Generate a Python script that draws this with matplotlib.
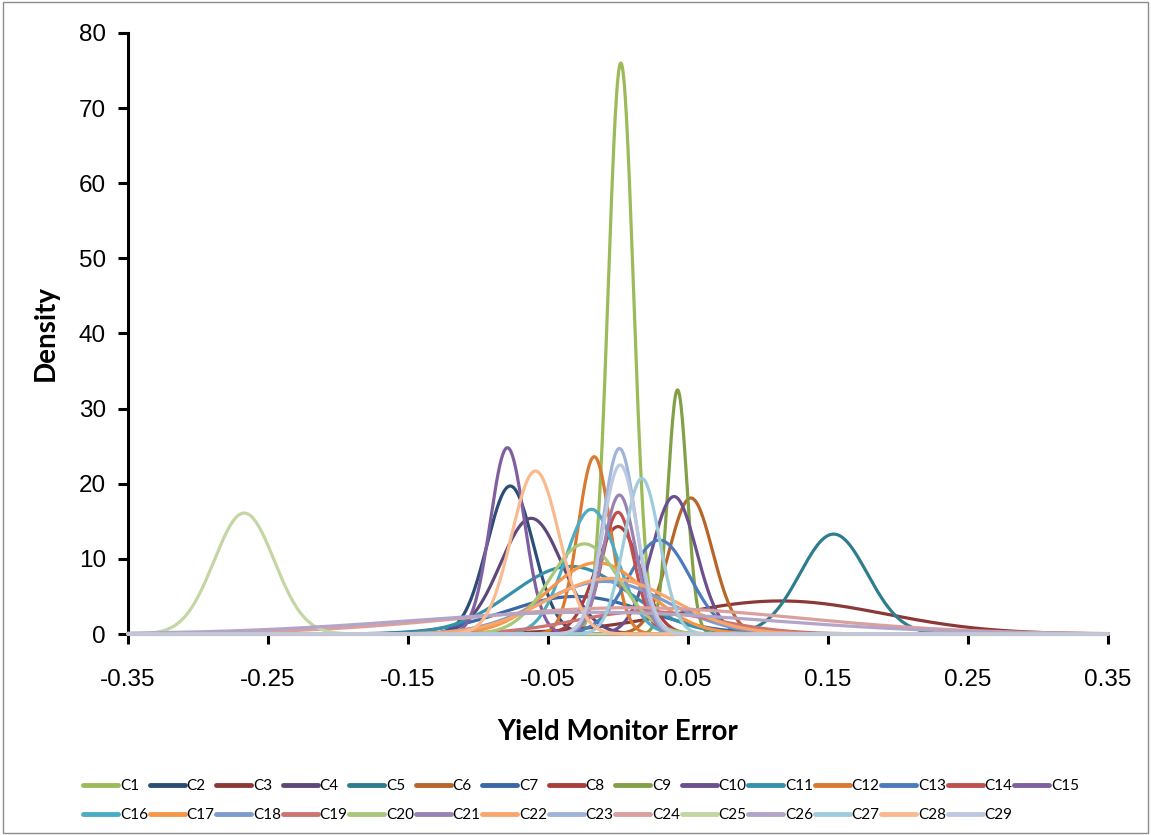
import numpy as np
import matplotlib.pyplot as plt
from matplotlib.patches import Rectangle

# Fitted normal-curve parameters for each calibration
names = ["C%d" % i for i in range(1, 30)]
means = [0.002, -0.077, 0.116, -0.062, 0.154, 0.052, -0.030, 0.000, 0.0425, 0.040,
         -0.034, -0.017, 0.0295, 0.000, -0.079, -0.019, -0.015, -0.010, 0.020, -0.024,
         0.001, -0.006, 0.001, 0.010, -0.267, -0.020, 0.017, -0.059, 0.0015]
sds = [0.009, 0.0165, 0.075, 0.022, 0.024, 0.0156, 0.050, 0.016, 0.0068, 0.016,
       0.042, 0.0115, 0.022, 0.0115, 0.0122, 0.0185, 0.035, 0.045, 0.050, 0.025,
       0.0116, 0.045, 0.0118, 0.120, 0.0215, 0.130, 0.0127, 0.017, 0.0125]
peaks = [76.0, 19.7, 4.4, 15.4, 13.3, 18.1, 5.0, 14.3, 32.5, 18.3,
         9.0, 23.6, 12.5, 16.2, 24.8, 16.6, 9.5, 7.0, 3.0, 12.0,
         18.5, 7.4, 24.7, 3.5, 16.1, 2.9, 20.7, 21.7, 22.5]
colors = ["#9BBB59", "#2C4D75", "#8C3836", "#5F4879", "#2E7D8F", "#B8652A", "#3A67A5",
          "#A93E3B", "#82A046", "#6B4F8E", "#3591A9", "#D97A30", "#4A7BBE", "#C0504D",
          "#7F5FA0", "#4BACC6", "#F79646", "#7D9BCE", "#CD7371", "#A9C77A", "#9983B5",
          "#F9A66B", "#A0B4DA", "#D9A09E", "#C3D6A4", "#B3A5C8", "#9FCCDB", "#FABA8F",
          "#BDC9E1"]

x_ticks = [-0.35, -0.25, -0.15, -0.05, 0.05, 0.15, 0.25, 0.35]
y_ticks = [0, 10, 20, 30, 40, 50, 60, 70, 80]

fig = plt.figure(figsize=(11.51, 8.35), dpi=100)
ax = fig.add_axes([0.1112, 0.2407, 0.8515, 0.7198])

xs = np.linspace(-0.35, 0.35, 1401)
lines = []
for name, mu, sd, pk, col in zip(names, means, sds, peaks, colors):
    ys = pk * np.exp(-0.5 * ((xs - mu) / sd) ** 2)
    ln, = ax.plot(xs, ys, color=col, lw=2.3, label=name, clip_on=False,
                  solid_capstyle='round')
    lines.append(ln)

ax.set_xlim(-0.35, 0.35)
ax.set_ylim(0, 80)
ax.set_xticks(x_ticks)
ax.set_xticklabels(["%.2f" % v for v in x_ticks])
ax.set_yticks(y_ticks)

for side in ['top', 'right']:
    ax.spines[side].set_visible(False)
for side in ['left', 'bottom']:
    ax.spines[side].set_linewidth(2.2)
    ax.spines[side].set_zorder(1)
ax.tick_params(axis='both', direction='out', length=7, width=2.2,
               labelsize=17.5, pad=9)
for lab in ax.get_xticklabels() + ax.get_yticklabels():
    lab.set_fontfamily('Liberation Sans')
ax.tick_params(axis='x', pad=18)

ax.set_xlabel('Yield Monitor Error', fontsize=20, fontweight='bold',
              family='Lato', labelpad=20)
ax.set_ylabel('Density', fontsize=20, fontweight='bold', family='Lato',
              labelpad=14)

# legend in two rows: C1-C15 on top, C16-C29 below
order = []
for j in range(14):
    order += [j, j + 15]
order.append(14)
leg = fig.legend([lines[i] for i in order], [names[i] for i in order],
                 ncol=15, loc='center', bbox_to_anchor=(0.505, 0.041),
                 frameon=False, prop={'family': 'Lato', 'size': 11},
                 handlelength=2.3, handletextpad=0.12, columnspacing=0.1,
                 labelspacing=1.0, borderaxespad=0)
for h in leg.legend_handles:
    h.set_linewidth(3.5)

fig.patches.append(Rectangle((0.003, 0.002), 0.994, 0.996, transform=fig.transFigure,
                             fill=False, edgecolor='#8C8C8C', lw=1))

fig.savefig('out.png', dpi=100, facecolor='white')
